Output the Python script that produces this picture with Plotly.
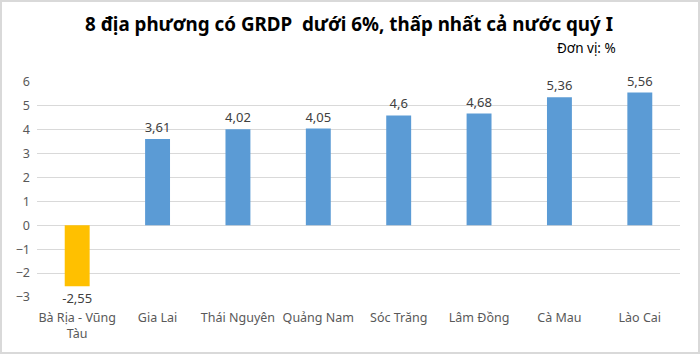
import plotly.graph_objects as go

categories = ["Bà Rịa - Vũng<br>Tàu", "Gia Lai", "Thái Nguyên", "Quảng Nam", "Sóc Trăng", "Lâm Đồng", "Cà Mau", "Lào Cai"]
values = [-2.55, 3.61, 4.02, 4.05, 4.6, 4.68, 5.36, 5.56]
colors = ["#FFC000"] + ["#5B9BD5"] * 7
labels = [str(v).replace(".", ",") for v in values]
ytick_vals = [-3, -2, -1, 0, 1, 2, 3, 4, 5, 6]

W, H = 700, 354
L, R, T, B = 37, 20, 82, 57
pw, ph = W - L - R, H - T - B

fig = go.Figure(go.Bar(
    x=categories, y=values, marker=dict(color=colors, line=dict(width=0)),
    text=labels, textposition="outside", cliponaxis=False, constraintext="none",
    textfont=dict(size=13, color="#404040", family="Noto Sans"),
))
fig.update_layout(
    width=W, height=H, margin=dict(l=L, r=R, t=T, b=B),
    paper_bgcolor="white", plot_bgcolor="white",
    bargap=0.69, showlegend=False,
    font=dict(family="Noto Sans", color="#595959", size=12),
    title=dict(text="<b>8 địa phương có GRDP  dưới 6%, thấp nhất cả nước quý I</b>",
               x=(349 - L) / pw, xanchor="center", y=1 - 24 / H, yanchor="middle", xref="paper",
               font=dict(size=18.8, color="#000000", family="Noto Sans")),
    xaxis=dict(showgrid=False, showline=False, ticks="", tickfont=dict(size=12.5, color="#595959"),
               ticklabelstandoff=11),
    yaxis=dict(range=[-3, 6], tickvals=ytick_vals, showgrid=True, gridcolor="#D9D9D9", gridwidth=1,
               zeroline=False, showline=False, ticks="", tickfont=dict(size=12.5, color="#595959"),
               ticklabelstandoff=6),
    annotations=[dict(text="Đơn vị: %", xref="paper", yref="paper", x=(618 - L) / pw, y=1 + (T - 48) / ph,
                      xanchor="right", yanchor="middle", showarrow=False,
                      font=dict(size=13.5, color="#000000", family="Noto Sans"))],
    shapes=[dict(type="rect", xref="paper", yref="paper",
                 x0=-(L - 1) / pw, x1=1 + (R - 1) / pw, y0=-(B - 1) / ph, y1=1 + (T - 1) / ph,
                 line=dict(color="#D9D9D9", width=2))],
)
fig.write_html("out.html")
